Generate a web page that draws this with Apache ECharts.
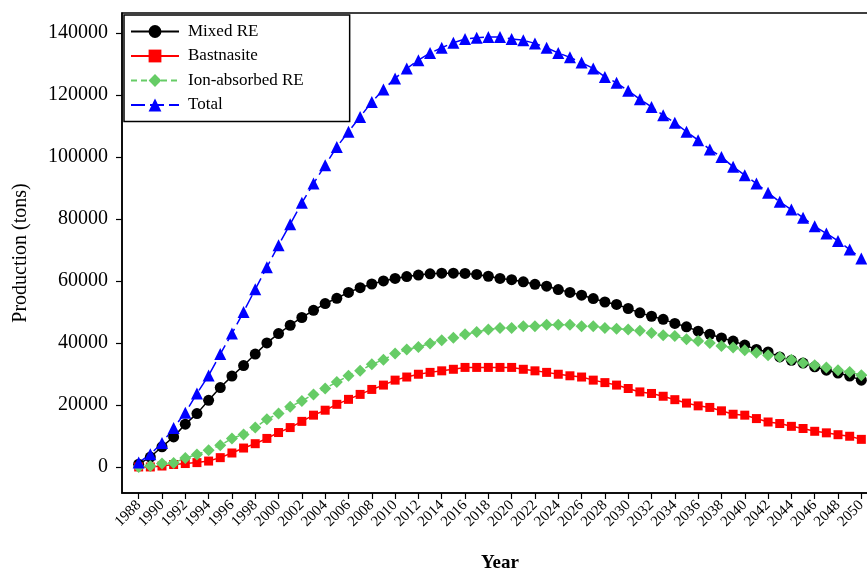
<!DOCTYPE html>
<html>
<head>
<meta charset="utf-8">
<script src="https://cdn.jsdelivr.net/npm/echarts@6/dist/echarts.min.js"></script>
<style>
  html, body { margin: 0; padding: 0; background: #fff; }
  #chart { width: 867px; height: 570px; }
</style>
</head>
<body>
<div id="chart"></div>
<script>
// years 1988 .. 2050
const years = [];
for (let y = 1988; y <= 2050; y++) years.push(y);

const xTicks = [];
for (let y = 1988; y <= 2050; y += 2) xTicks.push(y);
const yTicks = [0, 20000, 40000, 60000, 80000, 100000, 120000, 140000];

const mixedRE = [
  900, 3200, 6500, 9700, 13800, 17200, 21500, 25600, 29300, 32700,
  36400, 40000, 43000, 45700, 48200, 50500, 52700, 54400, 56300, 57800,
  59000, 60000, 60800, 61400, 61900, 62300, 62500, 62500, 62400, 62100,
  61500, 60800, 60400, 59700, 58900, 58300, 57200, 56300, 55400, 54300,
  53200, 52400, 51100, 49700, 48600, 47600, 46300, 45200, 43800, 42800,
  41600, 40600, 39300, 37900, 37100, 35500, 34400, 33500, 32300, 31200,
  30300, 29300, 28000
];
const bastnasite = [
  0, 0, 300, 800, 1100, 1400, 1900, 3000, 4500, 6100,
  7500, 9200, 11100, 12700, 14700, 16700, 18300, 20200, 21800, 23400,
  25000, 26400, 28000, 29000, 29900, 30500, 31000, 31500, 32100, 32100,
  32100, 32100, 32100, 31500, 31000, 30500, 29900, 29400, 29000, 28000,
  27200, 26400, 25300, 24200, 23700, 22800, 21700, 20600, 19700, 19200,
  18100, 17000, 16700, 15600, 14500, 14000, 13100, 12400, 11500, 11000,
  10400, 9900, 8900
];
const ionAbsorbed = [
  0, 300, 1100, 1300, 2900, 4000, 5400, 7000, 9200, 10500,
  12700, 15400, 17200, 19400, 21300, 23400, 25300, 27400, 29400, 31000,
  33100, 34600, 36600, 37900, 38700, 39800, 40900, 41700, 42800, 43500,
  44300, 44800, 44800, 45400, 45400, 45900, 45900, 45900, 45400, 45400,
  44800, 44600, 44300, 43900, 43200, 42500, 42200, 41200, 40600, 40000,
  39000, 38500, 37600, 36800, 36000, 35500, 34600, 33500, 32800, 32100,
  31200, 30600, 29600
];
const total = [
  1400, 4100, 7700, 12600, 17500, 23700, 29500, 36400, 43000, 50000,
  57300, 64400, 71500, 78300, 85200, 91400, 97300, 103200, 108100, 112900,
  117700, 121700, 125300, 128500, 131200, 133500, 135200, 136800, 138000, 138400,
  138700, 138700, 138000, 137600, 136600, 135200, 133500, 132100, 130400, 128500,
  125800, 123900, 121300, 118600, 116100, 113400, 111000, 108100, 105400, 102400,
  100000, 96800, 94100, 91400, 88400, 85500, 83000, 80400, 77600, 75300,
  72900, 70100, 67200
];

const serif = '"Liberation Serif", "Times New Roman", serif';
const pairs = arr => years.map((y, i) => [y, arr[i]]);

const chart = echarts.init(document.getElementById('chart'), null, { renderer: 'canvas' });
chart.setOption({
  backgroundColor: '#fff',
  animation: false,
  textStyle: { fontFamily: serif },
  grid: {
    left: 122, top: 13, bottom: 77, right: -11,
    show: true, borderColor: '#000', borderWidth: 1.5,
    containLabel: false,
    outerBoundsMode: 'none'
  },
  legend: {
    left: 124, top: 15,
    orient: 'vertical',
    backgroundColor: '#fff',
    borderColor: '#000', borderWidth: 1.5,
    padding: [8, 46, 8, 6],
    itemWidth: 48, itemHeight: 16, itemGap: 7.5,
    textStyle: { fontFamily: serif, fontSize: 17, color: '#000', padding: [0, 0, 0, 4] },
    data: ['Mixed RE', 'Bastnasite', 'Ion-absorbed RE', 'Total']
  },
  xAxis: {
    type: 'value',
    min: 1986.57, max: 2051.43,
    name: 'Year',
    nameLocation: 'middle',
    nameGap: 61,
    nameTextStyle: { fontFamily: serif, fontSize: 19, fontWeight: 'bold', color: '#000' },
    axisLine: { onZero: false, lineStyle: { color: '#000', width: 1.5 } },
    axisTick: { show: true, length: 6, lineStyle: { color: '#000', width: 1.2 }, customValues: xTicks },
    axisLabel: {
      customValues: xTicks, rotate: 45, margin: 10,
      fontFamily: serif, fontSize: 15, color: '#000',
      formatter: v => String(v)
    },
    splitLine: { show: false }
  },
  yAxis: {
    type: 'value',
    min: -8400, max: 146400,
    name: 'Production (tons)',
    nameLocation: 'middle',
    nameGap: 91,
    nameTextStyle: { fontFamily: serif, fontSize: 20, color: '#000' },
    axisLine: { show: true, onZero: false, lineStyle: { color: '#000', width: 1.5 } },
    axisTick: { show: true, length: 6, lineStyle: { color: '#000', width: 1.2 }, customValues: yTicks },
    axisLabel: {
      customValues: yTicks, margin: 14,
      fontFamily: serif, fontSize: 20, color: '#000',
      formatter: v => String(v)
    },
    splitLine: { show: false }
  },
  series: [
    {
      name: 'Mixed RE', type: 'line', data: pairs(mixedRE),
      symbol: 'circle', symbolSize: 11,
      itemStyle: { color: '#000' },
      lineStyle: { color: '#000', width: 1.5 }
    },
    {
      name: 'Bastnasite', type: 'line', data: pairs(bastnasite),
      symbol: 'rect', symbolSize: 9,
      itemStyle: { color: '#ff0000' },
      lineStyle: { color: '#ff0000', width: 1.5 }
    },
    {
      name: 'Ion-absorbed RE', type: 'line', data: pairs(ionAbsorbed),
      symbol: 'diamond', symbolSize: 12,
      itemStyle: { color: '#66cc66' },
      lineStyle: { color: '#66cc66', width: 1.5, type: [6, 4] }
    },
    {
      name: 'Total', type: 'line', data: pairs(total),
      symbol: 'triangle', symbolSize: 12,
      itemStyle: { color: '#0000ff' },
      lineStyle: { color: '#0000ff', width: 1.5, type: [14, 5] }
    }
  ]
});
</script>
</body>
</html>
